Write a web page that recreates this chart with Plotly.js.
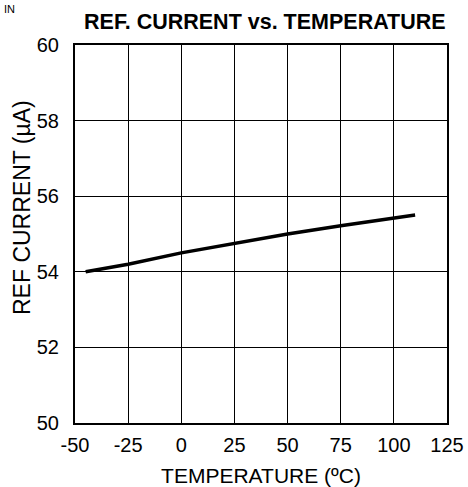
<!DOCTYPE html>
<html>
<head>
<script src="https://cdn.plot.ly/plotly-3.0.1.min.js"></script>
<style>body{margin:0;background:#fff}#chart{width:468px;height:487px}</style>
</head>
<body>
<div id="chart"></div>
<script>
const temperature = [-45, -25, 0, 25, 50, 75, 100, 110];
const refCurrent = [54.0, 54.2, 54.5, 54.75, 55.0, 55.22, 55.42, 55.5];
const xTicks = [-50, -25, 0, 25, 50, 75, 100, 125];
const yTicks = [50, 52, 54, 56, 58, 60];

const font = 'Liberation Sans, Arial, sans-serif';
Plotly.newPlot('chart', [{
  x: temperature, y: refCurrent, mode: 'lines', type: 'scatter',
  line: {color: '#000', width: 3.5}, hoverinfo: 'none'
}], {
  width: 468, height: 487,
  margin: {l: 75, r: 21, t: 45, b: 64},
  paper_bgcolor: '#fff', plot_bgcolor: '#fff',
  showlegend: false,
  font: {family: font, color: '#000', size: 20},
  title: {text: '<b>REF. CURRENT vs. TEMPERATURE</b>', x: 0.566, xanchor: 'center', y: 0.956, yanchor: 'middle', font: {family: font, size: 21.5, color: '#000'}},
  xaxis: {
    range: [-50, 125], tickvals: xTicks, ticktext: xTicks.map(String),
    showgrid: true, gridcolor: '#000', gridwidth: 1, zeroline: false,
    showline: true, linecolor: '#000', linewidth: 2, mirror: true,
    ticks: '', ticklabelstandoff: 3,
    tickfont: {family: font, size: 20, color: '#000'},
    title: {text: 'TEMPERATURE (ºC)', standoff: 15, font: {family: font, size: 21, color: '#000'}}
  },
  yaxis: {
    range: [50, 60], tickvals: yTicks, ticktext: yTicks.map(String),
    showgrid: true, gridcolor: '#000', gridwidth: 1, zeroline: false,
    showline: true, linecolor: '#000', linewidth: 2, mirror: true,
    ticks: '', ticklabelstandoff: 10,
    tickfont: {family: font, size: 20, color: '#000'}
  },
  annotations: [{
    text: 'REF CURRENT (µA)', textangle: -90, xref: 'paper', yref: 'paper',
    x: -(75 - 22) / 372, y: (423 - 208) / 378, xanchor: 'center', yanchor: 'middle',
    showarrow: false, font: {family: font, size: 23, color: '#000'}
  }, {
    text: 'IN', xref: 'paper', yref: 'paper', x: -(75 - 2) / 372, y: (423 - 9) / 378, xanchor: 'left', yanchor: 'middle',
    showarrow: false, font: {family: font, size: 11, color: '#000'}
  }]
}, {displayModeBar: false, staticPlot: true});
</script>
</body>
</html>
